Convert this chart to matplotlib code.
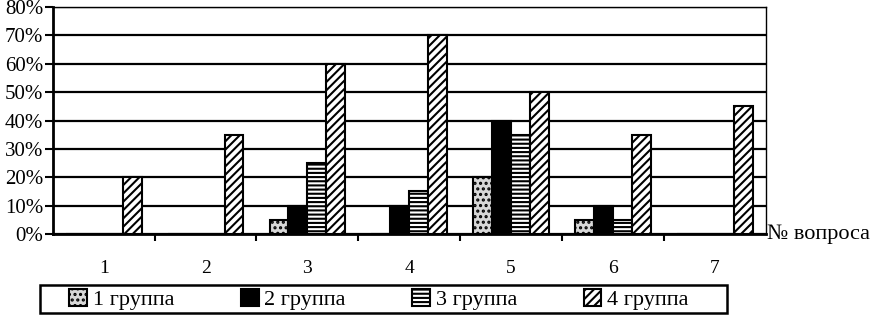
import numpy as np
import matplotlib
matplotlib.use("Agg")
import matplotlib.pyplot as plt
from matplotlib.patches import Rectangle
from matplotlib.ticker import MultipleLocator, FuncFormatter

plt.rcParams['font.family'] = ['Liberation Serif', 'DejaVu Serif']
plt.rcParams['hatch.linewidth'] = 1.5

questions = ['1', '2', '3', '4', '5', '6', '7']
groups = ['1 группа', '2 группа', '3 группа', '4 группа']
g1 = [0, 0, 5, 0, 20, 5, 0]
g2 = [0, 0, 10, 10, 40, 10, 0]
g3 = [0, 0, 25, 15, 35, 5, 0]
g4 = [20, 35, 60, 70, 50, 35, 45]

fig = plt.figure(figsize=(8.81, 3.21), dpi=100)
ax = fig.add_axes([0.060, 0.271, 0.809, 0.707])

x = np.arange(len(questions))
w = 0.186
styles = [
    dict(facecolor='#d8d8d8', hatch='...', edgecolor='black'),
    dict(facecolor='black', hatch=None, edgecolor='black'),
    dict(facecolor='white', hatch='----', edgecolor='black'),
    dict(facecolor='white', hatch='////', edgecolor='black'),
]
for i, (vals, st) in enumerate(zip([g1, g2, g3, g4], styles)):
    ax.bar(x + (i - 1.5) * w, vals, w, label=groups[i], linewidth=1.5, zorder=3, **st)

ax.set_xlim(-0.5, 6.5)
ax.set_ylim(0, 80)
ax.yaxis.set_major_locator(MultipleLocator(10))
ax.yaxis.set_major_formatter(FuncFormatter(lambda v, p: f'{int(v)}%'))
ax.grid(axis='y', color='black', linewidth=1.6, zorder=0)
ax.set_axisbelow(True)

ax.set_xticks(x)
ax.set_xticklabels(questions)
ax.set_xticks(np.arange(0.5, 6.5, 1), minor=True)
ax.tick_params(axis='x', which='major', length=0, pad=19, labelsize=14)
ax.tick_params(axis='x', which='minor', length=5, width=1.5, direction='out')
ax.tick_params(axis='y', length=6, width=1.5, labelsize=15, pad=1)

for s in ['left', 'bottom']:
    ax.spines[s].set_linewidth(2)
for s in ['top', 'right']:
    ax.spines[s].set_linewidth(1)

ax.text(1.002, 0.0, '№ вопроса', transform=ax.transAxes, fontsize=16,
        ha='left', va='center')

# legend frame drawn separately so its width matches the reference
fig.patches.append(Rectangle((0.045, 0.025), 0.78, 0.087, transform=fig.transFigure,
                             facecolor='none', edgecolor='black', linewidth=1.8))
leg = fig.legend(loc='center', ncol=4, bbox_to_anchor=(0.43, 0.068),
                 frameon=False, fontsize=16, columnspacing=3.0,
                 handlelength=0.8, handleheight=0.8, handletextpad=0.25,
                 borderpad=0.0, borderaxespad=0)

fig.savefig('out.png', dpi=100)
